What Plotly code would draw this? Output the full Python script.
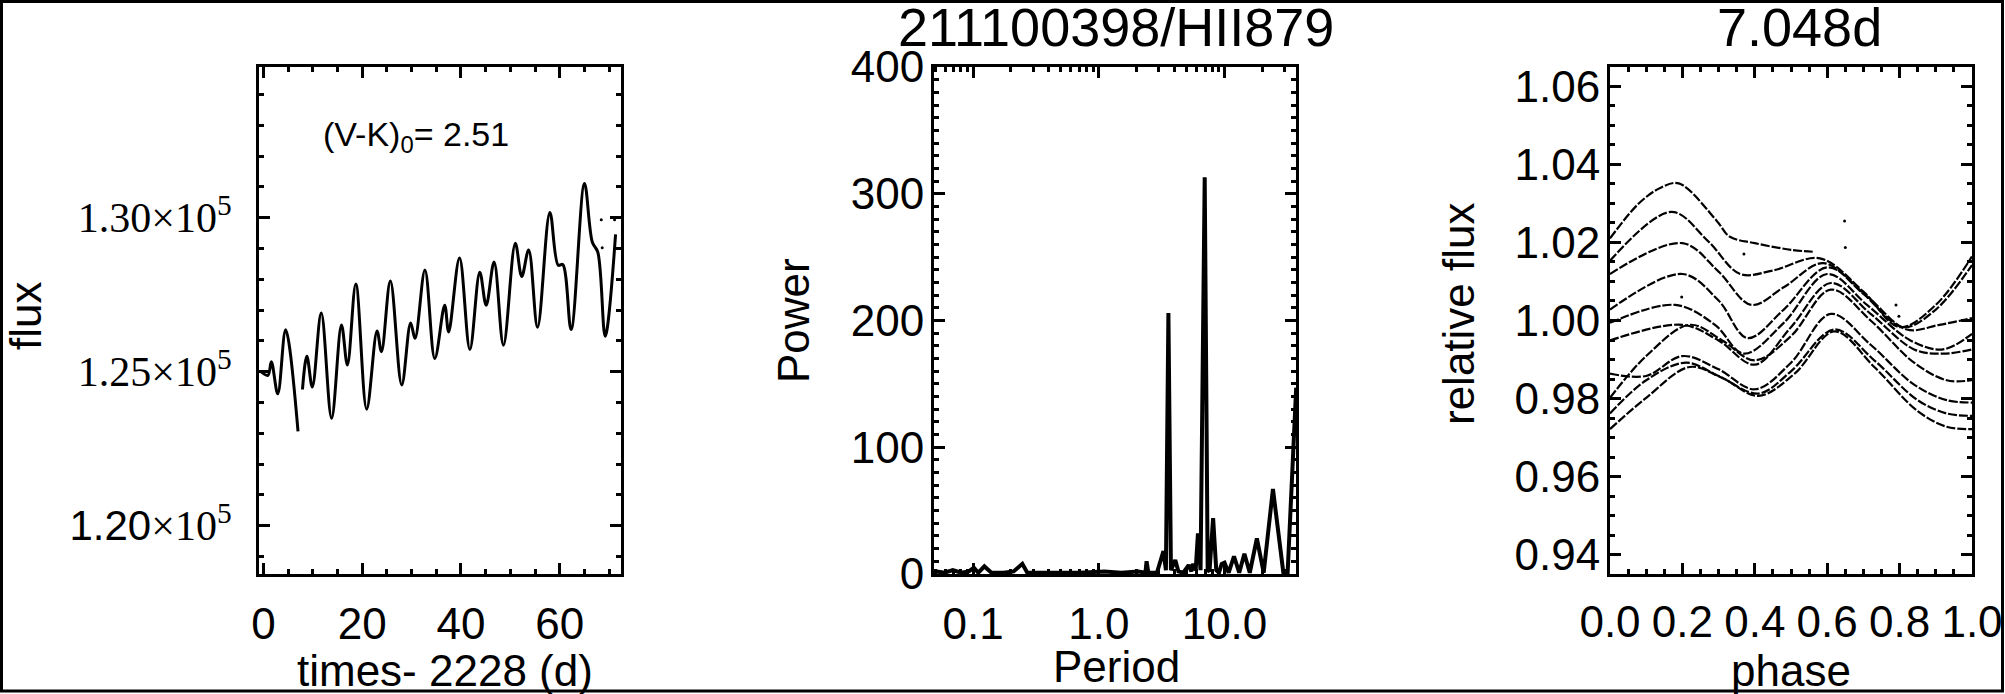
import plotly.graph_objects as go

# ---------------- data ----------------
# Panel 1: light curve (days since 2228, flux)
t_days = [-0.5, 0.9, 1.6, 2.9, 4.5, 7.0, None, 7.9, 8.8, 9.9, 11.7, 13.8, 15.8, 17.0, 18.7, 20.9,
          23.0, 23.9, 25.7, 28.0, 29.8, 30.7, 32.7, 34.7, 36.7, 37.5, 39.7, 41.8, 43.8,
          45.1, 46.7, 48.6, 51.0, 52.3, 53.7, 55.5, 58.0, 59.7, 60.6, 62.3, 65.0, 66.6,
          67.7, 69.2, 71.3]
flux_counts = [125000, 124880, 125320, 124280, 126360, 123060, None, 124420, 125500, 124500,
               126900, 123490, 126510, 125215, 127845, 123780, 126320, 125645, 127945,
               124570, 126580, 126080, 128300, 125430, 127155, 126290, 128690, 125720,
               128230, 127155, 128560, 125860, 129170, 128090, 128950, 126440, 130170,
               128450, 128480, 126365, 131105, 129200, 128880, 126150, 129455]
stray_t = [68.4, 71.1, 68.6]
stray_flux = [129930, 129930, 129020]
color_index = "2.51"

# Panel 2: periodogram (period in days, power)
period_days = [0.0488, 0.0507, 0.0591, 0.069, 0.0805, 0.0925, 0.1015, 0.11, 0.123, 0.14, 0.174,
               0.21, 0.2466, 0.27, 0.323, 0.475, 0.698, 1.109, 1.51, 2.06, 2.35, 2.40, 2.48,
               2.9, 3.1, 3.27, 3.42, 3.58, 3.75, 4.06, 4.3, 4.7, 5.19, 5.45, 5.61, 5.9, 6.15,
               6.45, 6.96, 7.35, 7.6, 8.12, 8.6, 9.04, 9.5, 10.0, 10.8, 11.9, 13.1, 14.4,
               15.9, 18.1, 20.5, 24.3, 29.4, 31.8, 37.2]
power = [1, 2, 1, 3, 1, 2, 5, 1, 6, 1, 1,
         2, 8, 1, 1, 1, 1, 2, 1, 2, 1, 10, 1,
         1, 10, 18, 3, 206, 3, 11, 2, 1, 7, 2, 8, 3, 32,
         3, 313, 3, 2, 44, 3, 1, 8, 9, 1, 14, 1, 16,
         1, 28, 1, 67, 1, 1, 147]

# Panel 3: phase-folded cycles (phase, relative flux)
phase_A = [0, 0.08, 0.14, 0.19, 0.295, 0.33, 0.40, 0.50, 0.56]
flux_A = [1.0210, 1.0300, 1.0340, 1.0351, 1.0255, 1.0215, 1.0198, 1.0181, 1.0176]
phase_B = [0, 0.17, 0.27, 0.36, 0.45, 0.58, 0.70, 0.80, 0.90, 1.0]
flux_B = [1.0153, 1.0278, 1.0204, 1.0119, 1.0128, 1.0159, 1.0074, 0.9983, 1.0040, 1.0164]
phase_C = [0, 0.20, 0.30, 0.39, 0.48, 0.59, 0.70, 0.81, 0.90, 1.0]
flux_C = [1.0119, 1.0198, 1.0125, 1.0040, 1.0085, 1.0147, 1.0068, 0.9983, 1.0028, 1.0142]
phase_D = [0, 0.20, 0.30, 0.38, 0.48, 0.60, 0.71, 0.82, 0.91, 1.0]
flux_D = [1.0028, 1.0119, 1.0051, 0.9955, 1.0028, 1.0136, 1.0062, 0.9977, 0.9989, 1.0006]
phase_E = [0, 0.18, 0.29, 0.37, 0.48, 0.60, 0.71, 0.83, 0.92, 1.0]
flux_E = [0.9994, 1.0040, 0.9989, 0.9915, 0.9994, 1.0119, 1.0040, 0.9949, 0.9926, 0.9966]
phase_F = [0, 0.20, 0.30, 0.40, 0.50, 0.61, 0.72, 0.84, 0.92, 1.0]
flux_F = [0.9949, 0.9989, 0.9949, 0.9887, 0.9983, 1.0096, 1.0017, 0.9926, 0.9915, 0.9926]
phase_G = [0, 0.10, 0.22, 0.31, 0.40, 0.50, 0.61, 0.72, 0.84, 0.93, 1.0]
flux_G = [0.9802, 0.9909, 0.9989, 0.9949, 0.9898, 0.9960, 1.0079, 1.0000, 0.9892, 0.9847, 0.9847]
phase_H = [0, 0.10, 0.20, 0.30, 0.40, 0.50, 0.61, 0.72, 0.84, 0.93, 1.0]
flux_H = [0.9864, 0.9858, 0.9909, 0.9875, 0.9824, 0.9892, 1.0017, 0.9938, 0.9836, 0.9796, 0.9790]
phase_I = [0, 0.10, 0.21, 0.30, 0.41, 0.50, 0.62, 0.73, 0.85, 0.93, 1.0]
flux_I = [0.9762, 0.9847, 0.9892, 0.9858, 0.9813, 0.9870, 0.9977, 0.9898, 0.9796, 0.9762, 0.9756]
phase_J = [0, 0.10, 0.22, 0.31, 0.41, 0.51, 0.62, 0.73, 0.85, 0.93, 1.0]
flux_J = [0.9722, 0.9802, 0.9881, 0.9853, 0.9807, 0.9864, 0.9972, 0.9881, 0.9768, 0.9728, 0.9722]
stray_phase = [0.648, 0.65, 0.79, 0.198, 0.798, 0.37]
stray_rel = [1.0255, 1.0187, 1.0040, 1.0060, 1.0011, 1.0170]

# tick labels
p1_yticks = [120000, 125000, 130000]
p1_yticktext = ["<span style=\"font-family:'Liberation Sans'\">1.20</span>×10<sup>5</sup>",
                '1.25×10<sup>5</sup>', '1.30×10<sup>5</sup>']
p1_xticks = [0, 20, 40, 60]
p2_xticks = [0.1, 1, 10]
p2_xticktext = ['0.1', '1.0', '10.0']
p2_minor = [0.05, 0.06, 0.07, 0.08, 0.09, 0.2, 0.3, 0.4, 0.5, 0.6, 0.7, 0.8, 0.9,
            2, 3, 4, 5, 6, 7, 8, 9, 20, 30]
p2_yticks = [0, 100, 200, 300, 400]
p3_xticks = [0, 0.2, 0.4, 0.6, 0.8, 1.0]
p3_xticktext = ['0.0', '0.2', '0.4', '0.6', '0.8', '1.0']
p3_yticks = [0.94, 0.96, 0.98, 1.00, 1.02, 1.04, 1.06]
p3_yticktext = ['0.94', '0.96', '0.98', '1.00', '1.02', '1.04', '1.06']

# ---------------- figure ----------------
W, H = 2005, 694
def fx(p):
    return p / W
def fy(p):
    return 1 - p / H

SANS = "Liberation Sans"
SERIF = "Liberation Serif"

fig = go.Figure()

fig.add_trace(go.Scatter(x=t_days, y=flux_counts, mode="lines", xaxis="x", yaxis="y",
                         line=dict(color="black", width=3, shape="spline", smoothing=1.0),
                         connectgaps=False))
fig.add_trace(go.Scatter(x=stray_t, y=stray_flux, mode="markers", xaxis="x", yaxis="y",
                         marker=dict(color="black", size=3)))

fig.add_trace(go.Scatter(x=period_days, y=power, mode="lines", xaxis="x2", yaxis="y2",
                         line=dict(color="black", width=4)))

for ph, fl in [(phase_A, flux_A), (phase_B, flux_B), (phase_C, flux_C), (phase_D, flux_D),
               (phase_E, flux_E), (phase_F, flux_F), (phase_G, flux_G), (phase_H, flux_H),
               (phase_I, flux_I), (phase_J, flux_J)]:
    fig.add_trace(go.Scatter(x=ph, y=fl, mode="lines", xaxis="x3", yaxis="y3",
                             line=dict(color="black", width=2.2, shape="spline",
                                       smoothing=1.0, dash="9px,2px")))
fig.add_trace(go.Scatter(x=stray_phase, y=stray_rel, mode="markers", xaxis="x3", yaxis="y3",
                         marker=dict(color="black", size=3)))

common = dict(showline=True, linewidth=3, linecolor="black", mirror="ticks",
              ticks="inside", ticklen=11, tickwidth=3, tickcolor="black",
              showgrid=False, zeroline=False, automargin=False,
              tickfont=dict(family=SANS, size=44, color="black"))
def minor(**kw):
    d = dict(ticks="inside", ticklen=5, tickwidth=2.5, tickcolor="black", showgrid=False)
    d.update(kw)
    return d

ydom = [fy(574), fy(67)]
fig.update_layout(
    width=W, height=H, margin=dict(l=0, r=0, t=0, b=0, pad=0, autoexpand=False),
    paper_bgcolor="white", plot_bgcolor="white", showlegend=False,
    xaxis=dict(common, domain=[fx(259), fx(621)], range=[-0.9, 72.4], anchor="y",
               tickmode="array", tickvals=p1_xticks, ticklabelstandoff=9,
               minor=minor(dtick=5, tick0=0)),
    yaxis=dict(common, domain=ydom, range=[118430, 134890], anchor="x",
               tickmode="array", tickvals=p1_yticks, ticktext=p1_yticktext,
               ticklabelstandoff=16,
               tickfont=dict(family=SERIF, size=42, color="black"),
               minor=minor(dtick=1000, tick0=0)),
    xaxis2=dict(common, type="log", domain=[fx(934), fx(1296)], range=[-1.311, 1.569],
                anchor="y2", tickmode="array", tickvals=p2_xticks, ticktext=p2_xticktext,
                ticklabelstandoff=9, minor=minor(tickmode="array", tickvals=p2_minor)),
    yaxis2=dict(common, domain=ydom, range=[0, 400], anchor="x2",
                tickmode="array", tickvals=p2_yticks, ticklabelstandoff=-2,
                minor=minor(dtick=10, tick0=0)),
    xaxis3=dict(common, domain=[fx(1610), fx(1972)], range=[0, 1], anchor="y3",
                tickmode="array", tickvals=p3_xticks, ticktext=p3_xticktext,
                ticklabelstandoff=7, minor=minor(dtick=0.05, tick0=0)),
    yaxis3=dict(common, domain=ydom, range=[0.9351, 1.0649], anchor="x3",
                tickmode="array", tickvals=p3_yticks, ticktext=p3_yticktext,
                ticklabelstandoff=-2, minor=minor(dtick=0.005, tick0=0)),
)

def ann(text, x, y, size, angle=0, family=SANS):
    fig.add_annotation(text=text, x=fx(x), y=fy(y), xref="paper", yref="paper",
                       showarrow=False, textangle=angle, xanchor="center", yanchor="middle",
                       font=dict(family=family, size=size, color="black"))

ann("211100398/HII879", 1116, 27, 54)
ann("7.048d", 1799, 27, 54)
ann("(V-K)<sub>0</sub>= " + color_index, 416, 136, 34)
ann("flux", 25, 316, 44, -90)
ann("times- 2228 (d)", 445, 670, 44)
ann("Power", 793, 321, 44, -90)
ann("Period", 1116, 666, 44)
ann("relative flux", 1459, 314, 44, -90)
ann("phase", 1791, 670, 44)

fig.add_shape(type="rect", xref="paper", yref="paper",
              x0=fx(1.5), x1=fx(W - 2.5), y0=fy(H - 3), y1=fy(1.5),
              line=dict(color="black", width=3), fillcolor="rgba(0,0,0,0)")

fig.write_html("out.html", config={"displayModeBar": False},
               post_script="document.body.style.margin='0';")
